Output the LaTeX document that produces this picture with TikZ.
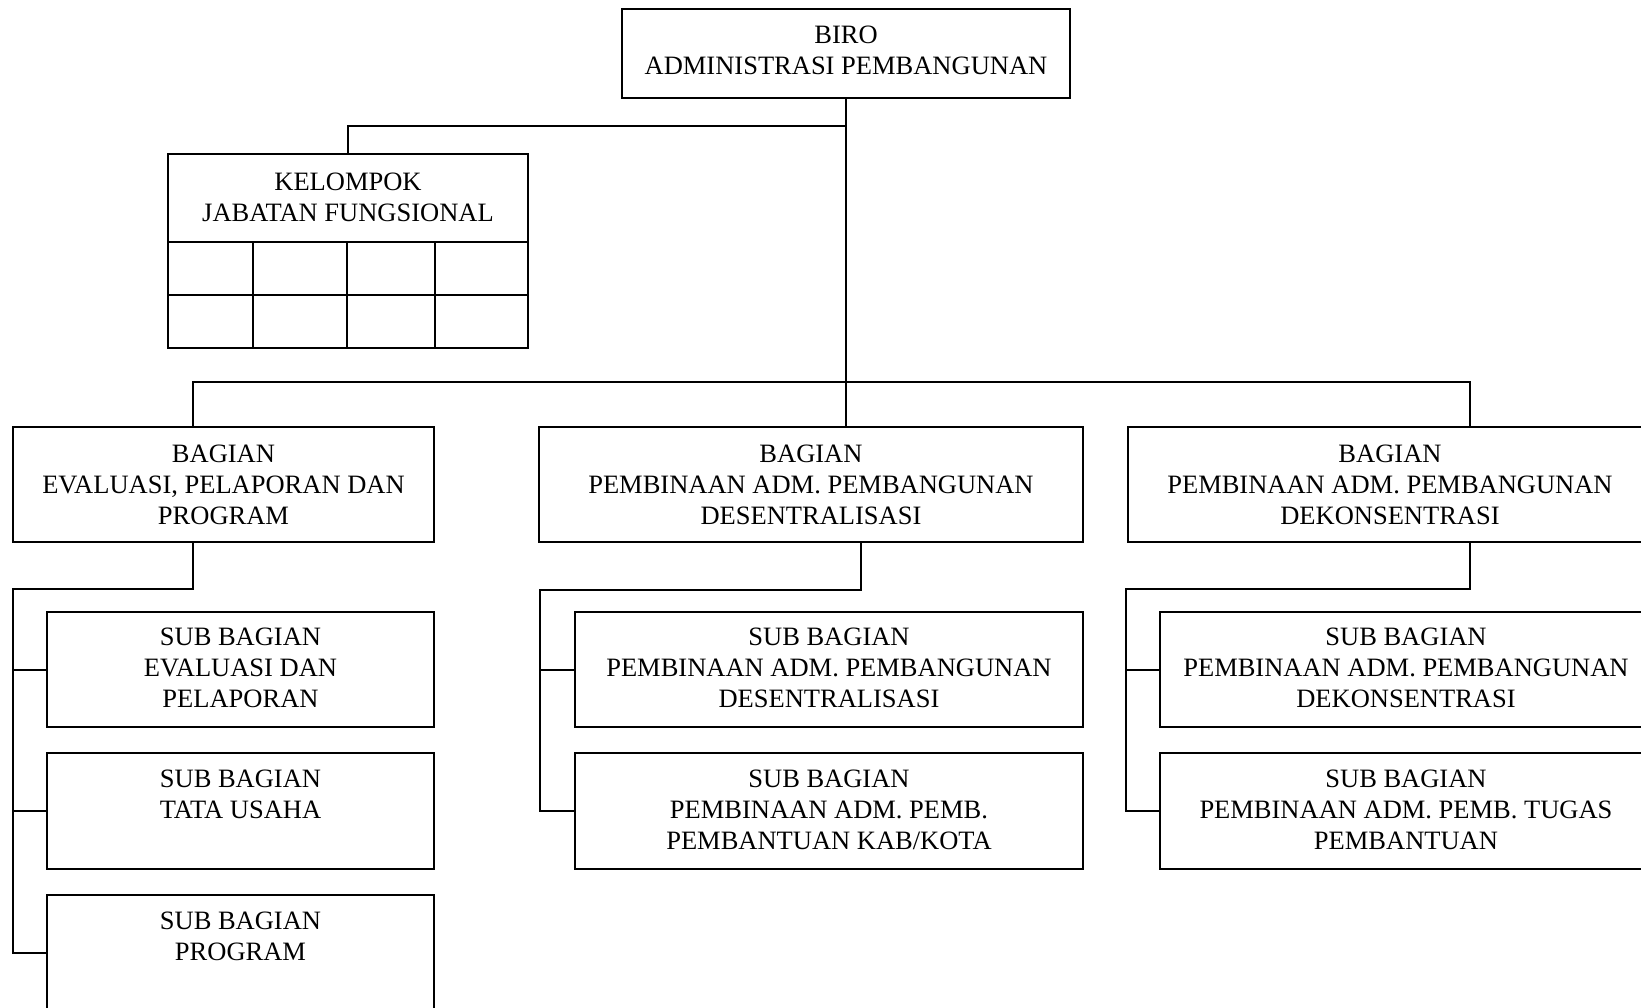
\documentclass[tikz,border=0pt]{standalone}
\usepackage{fontspec}
\setmainfont{Liberation Serif}
\usetikzlibrary{calc}
\begin{document}
\begin{tikzpicture}[x=1pt,y=-1pt,
  box/.style={draw, line width=2.2pt, rectangle, inner sep=0pt, outer sep=0pt, anchor=north west},
  lbl/.style={align=center, inner sep=0pt, anchor=north, font=\fontsize{26.5pt}{31pt}\selectfont},
  conn/.style={line width=2pt},
  grid/.style={line width=2.2pt}]
\useasboundingbox (0,0) rectangle (1641,1007);
% boxes
\node[box, minimum width=448pt, minimum height=89pt] (biro) at (622,9) {};
\node[box, minimum width=360pt, minimum height=194pt] (kel) at (168,154) {};
\node[box, minimum width=421pt, minimum height=115pt] (bagA) at (13,427) {};
\node[box, minimum width=544pt, minimum height=115pt] (bagB) at (539,427) {};
\node[box, minimum width=524pt, minimum height=115pt] (bagC) at (1128,427) {};
\node[box, minimum width=387pt, minimum height=115pt] (subA1) at (47,612) {};
\node[box, minimum width=387pt, minimum height=116pt] (subA2) at (47,753) {};
\node[box, minimum width=387pt, minimum height=130pt] (subA3) at (47,895) {};
\node[box, minimum width=508pt, minimum height=115pt] (subB1) at (575,612) {};
\node[box, minimum width=508pt, minimum height=116pt] (subB2) at (575,753) {};
\node[box, minimum width=492pt, minimum height=115pt] (subC1) at (1160,612) {};
\node[box, minimum width=492pt, minimum height=116pt] (subC2) at (1160,753) {};
% kelompok grid
\draw[grid] ($(kel.north west)+(0,88)$) -- ($(kel.north east)+(0,88)$);
\draw[grid] ($(kel.north west)+(0,141)$) -- ($(kel.north east)+(0,141)$);
\draw[grid] ($(kel.north west)+(85,88)$) -- ($(kel.south west)+(85,0)$);
\draw[grid] ($(kel.north west)+(179,88)$) -- ($(kel.south west)+(179,0)$);
\draw[grid] ($(kel.north west)+(267,88)$) -- ($(kel.south west)+(267,0)$);
% labels
\node[lbl] (tbiro) at ($(biro.north)+(0,17)$) {BIRO\\ADMINISTRASI PEMBANGUNAN};
\node[lbl] (tkel) at ($(kel.north)+(0,19)$) {KELOMPOK\\JABATAN FUNGSIONAL};
\node[lbl] (tbagA) at ($(bagA.north)+(0,18)$) {BAGIAN\\EVALUASI, PELAPORAN DAN\\PROGRAM};
\node[lbl] (tbagB) at ($(bagB.north)+(0,18)$) {BAGIAN\\PEMBINAAN ADM. PEMBANGUNAN\\DESENTRALISASI};
\node[lbl] (tbagC) at ($(bagC.north)+(0,18)$) {BAGIAN\\PEMBINAAN ADM. PEMBANGUNAN\\DEKONSENTRASI};
\node[lbl] (tsubA1) at ($(subA1.north)+(0,16)$) {SUB BAGIAN\\EVALUASI DAN\\PELAPORAN};
\node[lbl] (tsubA2) at ($(subA2.north)+(0,17)$) {SUB BAGIAN\\TATA USAHA};
\node[lbl] (tsubA3) at ($(subA3.north)+(0,17)$) {SUB BAGIAN\\PROGRAM};
\node[lbl] (tsubB1) at ($(subB1.north)+(0,16)$) {SUB BAGIAN\\PEMBINAAN ADM. PEMBANGUNAN\\DESENTRALISASI};
\node[lbl] (tsubB2) at ($(subB2.north)+(0,17)$) {SUB BAGIAN\\PEMBINAAN ADM. PEMB.\\PEMBANTUAN KAB/KOTA};
\node[lbl] (tsubC1) at ($(subC1.north)+(0,16)$) {SUB BAGIAN\\PEMBINAAN ADM. PEMBANGUNAN\\DEKONSENTRASI};
\node[lbl] (tsubC2) at ($(subC2.north)+(0,17)$) {SUB BAGIAN\\PEMBINAAN ADM. PEMB. TUGAS\\PEMBANTUAN};
% connector coordinates
\coordinate (kj) at ($(biro.south)+(0,28)$);
\coordinate (busL) at (193,382);
\coordinate (busR) at (1470,382);
\coordinate (dA) at (193,589);
\coordinate (lA) at (13,589);
\coordinate (dB) at (861,590);
\coordinate (lB) at (540,590);
\coordinate (dC) at (1470,589);
\coordinate (lC) at (1126,589);
\coordinate (a3) at ($(subA3.north west)+(0,57.5)$);
% connectors
\draw[conn] (biro.south) -- (biro.south |- bagB.north);
\draw[conn] (kj) -| (kel.north);
\draw[conn] (busL |- bagA.north) -- (busL) -- (busR) -- (busR |- bagC.north);
\draw[conn] (dA |- bagA.south) -- (dA) -- (lA) -- (lA |- a3) -- (a3);
\draw[conn] (lA |- subA1.west) -- (subA1.west);
\draw[conn] (lA |- subA2.west) -- (subA2.west);
\draw[conn] (dB |- bagB.south) -- (dB) -- (lB) -- (lB |- subB2.west) -- (subB2.west);
\draw[conn] (lB |- subB1.west) -- (subB1.west);
\draw[conn] (dC |- bagC.south) -- (dC) -- (lC) -- (lC |- subC2.west) -- (subC2.west);
\draw[conn] (lC |- subC1.west) -- (subC1.west);
\end{tikzpicture}
\end{document}
